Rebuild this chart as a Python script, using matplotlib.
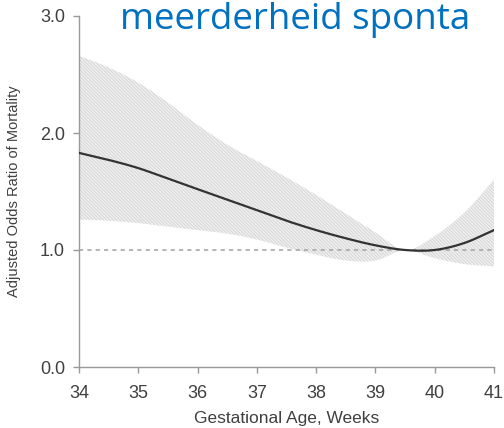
import matplotlib
matplotlib.use("Agg")
import matplotlib.pyplot as plt
import numpy as np

weeks = [34, 34.5, 35, 35.5, 36, 36.5, 37, 37.5, 38, 38.5, 39, 39.5, 40, 40.5, 41]
odds_ratio = [1.83, 1.77, 1.70, 1.61, 1.52, 1.43, 1.34, 1.25, 1.17, 1.10, 1.04, 1.00, 1.00, 1.06, 1.17]
upper_ci = [2.66, 2.56, 2.43, 2.26, 2.07, 1.90, 1.76, 1.62, 1.47, 1.31, 1.15, 1.00, 1.12, 1.32, 1.60]
lower_ci = [1.26, 1.25, 1.23, 1.20, 1.17, 1.14, 1.09, 1.02, 0.96, 0.91, 0.91, 1.00, 0.93, 0.88, 0.86]
xticks = [34, 35, 36, 37, 38, 39, 40, 41]
yticks = [0.0, 1.0, 2.0, 3.0]
title_text = "meerderheid sponta"

plt.rcParams['font.family'] = ['Liberation Sans', 'DejaVu Sans']
plt.rcParams['hatch.color'] = '#d2d2d2'
plt.rcParams['hatch.linewidth'] = 0.6

fig = plt.figure(figsize=(5.04, 4.28), dpi=100)
ax = fig.add_axes([79/504, 1 - 367/428, (494 - 79)/504, (367 - 16)/428])


def smooth(x, y, n=300):
    # piecewise cubic Hermite interpolation through the read points
    x = np.asarray(x, float); y = np.asarray(y, float)
    xs = np.linspace(x[0], x[-1], n)
    m = np.gradient(y, x)
    idx = np.clip(np.searchsorted(x, xs) - 1, 0, len(x) - 2)
    h = x[idx + 1] - x[idx]
    t = (xs - x[idx]) / h
    h00 = 2*t**3 - 3*t**2 + 1
    h10 = t**3 - 2*t**2 + t
    h01 = -2*t**3 + 3*t**2
    h11 = t**3 - t**2
    ys = h00*y[idx] + h10*h*m[idx] + h01*y[idx+1] + h11*h*m[idx+1]
    return xs, ys


xs, ys = smooth(weeks, odds_ratio)
_, yu = smooth(weeks, upper_ci)
_, yl = smooth(weeks, lower_ci)

ax.fill_between(xs, yl, yu, facecolor='#f0f0f0', edgecolor='#d2d2d2',
                hatch='\\' * 10, linewidth=0, zorder=1)
ax.axhline(1.0, color='#a8a8a8', linestyle=(0, (2.5, 2.5)), linewidth=1.2, zorder=2)
ax.plot(xs, ys, color='#333333', linewidth=1.6, zorder=3)

ax.set_xlim(34, 41)
ax.set_ylim(0, 3)
ax.set_xticks(xticks)
ax.set_yticks(yticks)
ax.set_yticklabels([f"{v:.1f}" for v in yticks])

for s in ['top', 'right']:
    ax.spines[s].set_visible(False)
for s in ['left', 'bottom']:
    ax.spines[s].set_color('#999999')
    ax.spines[s].set_linewidth(1.0)
ax.tick_params(colors='#999999', labelcolor='#404040', labelsize=13, length=4, width=1.0)
ax.tick_params(axis='x', pad=9)
ax.tick_params(axis='y', pad=6)

fig.text(287/504, 1 - 418/428, "Gestational Age, Weeks", fontsize=12.5, color='#404040',
         ha='center', va='center')
ax.set_ylabel("Adjusted Odds Ratio of Mortality", fontsize=10.5, color='#404040')
ax.yaxis.set_label_coords(-0.14, 0.5)

fig.text(120/504, 1 - 29/428, title_text, fontsize=26.5, color='#0070C0',
         family=['Open Sans', 'DejaVu Sans'], ha='left', va='baseline')

fig.savefig("out.png", dpi=100)
